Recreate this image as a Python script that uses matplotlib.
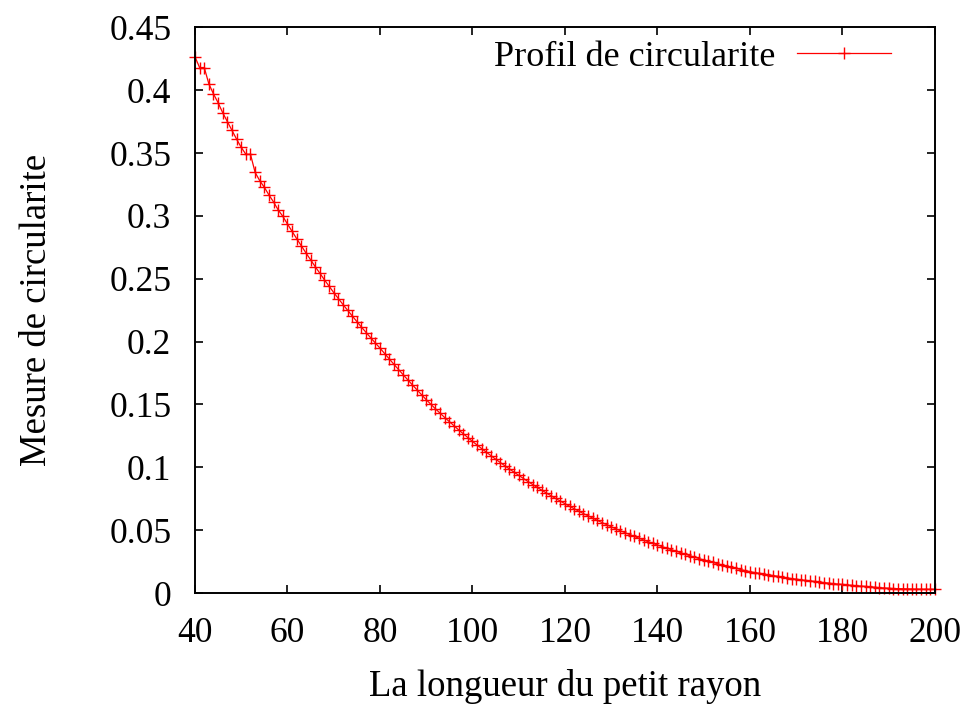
import matplotlib
matplotlib.use("Agg")
import matplotlib.pyplot as plt
from matplotlib.ticker import FuncFormatter

plt.rcParams['font.family'] = ['Liberation Serif', 'DejaVu Serif']

# petit rayon (x) de 40 a 200
rayon = list(range(40, 201))

# mesure de circularite, une valeur par rayon
circ_40_59 = [0.4265, 0.4180, 0.4180, 0.4050, 0.3970, 0.3900, 0.3820, 0.3750, 0.3680, 0.3610,
              0.3545, 0.3490, 0.3490, 0.3346, 0.3280, 0.3227, 0.3166, 0.3110, 0.3047, 0.2996]
circ_60_99 = [0.2935, 0.2876, 0.2818, 0.2761, 0.2705, 0.2650, 0.2596, 0.2543, 0.2491, 0.2440,
              0.2390, 0.2342, 0.2295, 0.2249, 0.2204, 0.2159, 0.2115, 0.2072, 0.2030, 0.1989,
              0.1948, 0.1905, 0.1862, 0.1820, 0.1778, 0.1737, 0.1696, 0.1656, 0.1616, 0.1577,
              0.1538, 0.1501, 0.1465, 0.1430, 0.1396, 0.1363, 0.1330, 0.1298, 0.1267, 0.1236]
circ_100_139 = [0.1206, 0.1177, 0.1148, 0.1120, 0.1092, 0.1065, 0.1038, 0.1012, 0.0986, 0.0961,
                0.0936, 0.0911, 0.0887, 0.0863, 0.0840, 0.0817, 0.0795, 0.0773, 0.0752, 0.0731,
                0.0710, 0.0690, 0.0670, 0.0651, 0.0632, 0.0614, 0.0596, 0.0578, 0.0561, 0.0544,
                0.0527, 0.0511, 0.0495, 0.0480, 0.0465, 0.0450, 0.0436, 0.0422, 0.0408, 0.0395]
circ_140_179 = [0.0382, 0.0369, 0.0357, 0.0345, 0.0333, 0.0321, 0.0309, 0.0297, 0.0285, 0.0274,
                0.0263, 0.0253, 0.0243, 0.0233, 0.0223, 0.0214, 0.0205, 0.0196, 0.0187, 0.0178,
                0.0170, 0.0163, 0.0157, 0.0151, 0.0145, 0.0139, 0.0133, 0.0127, 0.0121, 0.0115,
                0.0110, 0.0105, 0.0100, 0.0096, 0.0092, 0.0087, 0.0083, 0.0079, 0.0075, 0.0071]
circ_180_200 = [0.0068, 0.0064, 0.0061, 0.0058, 0.0055, 0.0052, 0.0049, 0.0046, 0.0043, 0.0040,
                0.0038, 0.0036, 0.0035, 0.0034, 0.0033, 0.0032, 0.0031, 0.0031, 0.0030, 0.0030,
                0.0030]
circularite = circ_40_59 + circ_60_99 + circ_100_139 + circ_140_179 + circ_180_200

x_ticks = [40, 60, 80, 100, 120, 140, 160, 180, 200]
y_ticks = [0, 0.05, 0.1, 0.15, 0.2, 0.25, 0.3, 0.35, 0.4, 0.45]

fig = plt.figure(figsize=(9.71, 7.07), dpi=100)
ax = fig.add_axes([0.2008, 0.1612, 0.7621, 0.8002])

ax.plot(rayon, circularite, color='red', lw=0.9, marker='+', ms=8, mew=1.0,
        label='Profil de circularite', clip_on=False)

ax.set_xlim(40, 200)
ax.set_ylim(0, 0.45)
ax.set_xticks(x_ticks)
ax.set_yticks(y_ticks)
ax.yaxis.set_major_formatter(FuncFormatter(lambda v, p: f'{v:g}'))
ax.tick_params(direction='in', top=True, right=True, length=6, width=1.2,
               labelsize=25.5, pad=17)
for s in ax.spines.values():
    s.set_linewidth(1.4)

ax.set_xlabel('La longueur du petit rayon', fontsize=26.5, labelpad=14)
ax.set_ylabel('Mesure de circularite', fontsize=26.5, labelpad=40)

ax.legend(loc='center right', bbox_to_anchor=(0.9405, 0.947), frameon=False,
          markerfirst=False, fontsize=26, handlelength=2.6, handletextpad=0.6,
          borderpad=0, borderaxespad=0)

fig.savefig('out.png', dpi=100)
